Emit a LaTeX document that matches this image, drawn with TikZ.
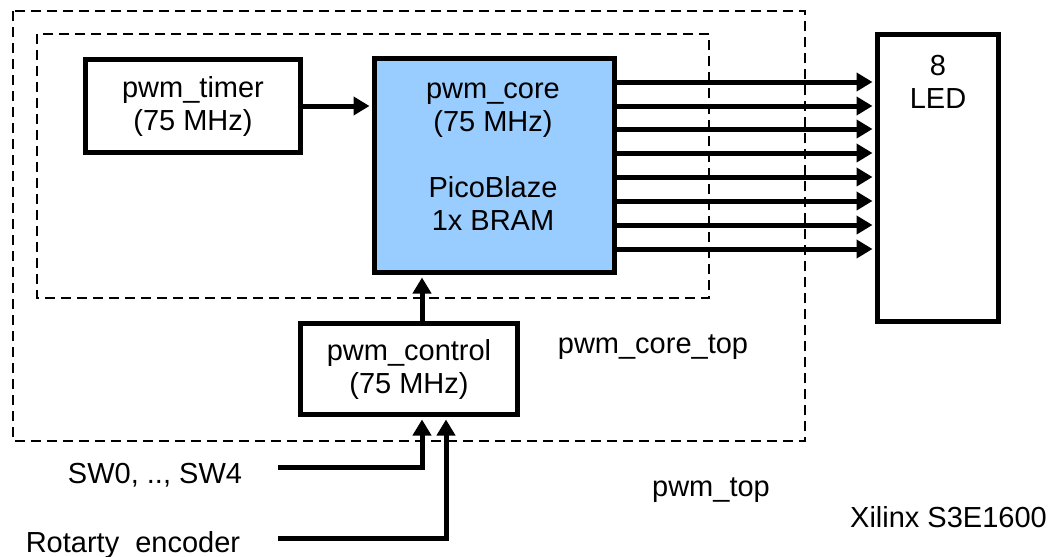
\documentclass[tikz,border=0pt]{standalone}
\usepackage{fontspec}
\setmainfont{Liberation Sans}
\usepackage{xcolor}
\usetikzlibrary{positioning,arrows.meta}
\definecolor{coreblue}{RGB}{153,204,255}

\begin{document}
\begin{tikzpicture}[x=1pt, y=-1pt, every node/.style={font=\fontsize{29}{33}\selectfont, align=center, inner sep=0pt},
  box/.style={draw, line width=5pt, fill=white},
  area/.style={draw, line width=2pt, dash pattern=on 10pt off 6pt},
  sig/.style={line width=5pt, -{Triangle[length=16pt,width=18pt]}, shorten >=2.5pt}]
  \useasboundingbox (0,0) rectangle (1053,557);
  % pwm_top and pwm_core_top
  \draw[area] (13,11) rectangle (805,441);
  \draw[area] (37,34) rectangle (709,298);
  \node[box, minimum width=215, minimum height=93] (timer) at (193,106) {pwm\_timer\\(75 MHz)};
  \node[box, fill=coreblue, minimum width=240, minimum height=214] (core) at (494.5,165.5) {};
  \node (coretext) at (493,156.5) {pwm\_core\\(75 MHz)\\[33pt]PicoBlaze\\1x BRAM};
  \node[box, minimum width=121, minimum height=287] (led) at (938,178) {};
  \node (ledtext) at (938,81.5) {8\\LED};
  \node[box, minimum width=217, minimum height=91] (ctrl) at (409,369) {pwm\_control\\(75 MHz)};
  \node (coretop) at (653,347) {pwm\_core\_top};
  \node (top) at (711,490) {pwm\_top};
  \node (fpga) at (948.5,517) {Xilinx S3E1600};
  \node (sw) at (155,475) {SW0, .., SW4};
  \node (rot) at (133,545) {Rotarty\ \ encoder};
  \coordinate (swin) at (278,467);
  \coordinate (rotin) at (278,538);
  \draw[sig] (timer.east) -- (timer.east -| core.west);
  \draw[sig] ([xshift=13pt]ctrl.north) -- ([xshift=13pt]ctrl.north |- core.south);
  \draw[sig] (swin) -| ([xshift=13pt]ctrl.south);
  \draw[sig] (rotin) -| ([xshift=37pt]ctrl.south);
  \foreach \y in {82,106,129,153,177,201,225,249}
    \draw[sig] (core.east |- 0,\y) -- (led.west |- 0,\y);
\end{tikzpicture}
\end{document}
